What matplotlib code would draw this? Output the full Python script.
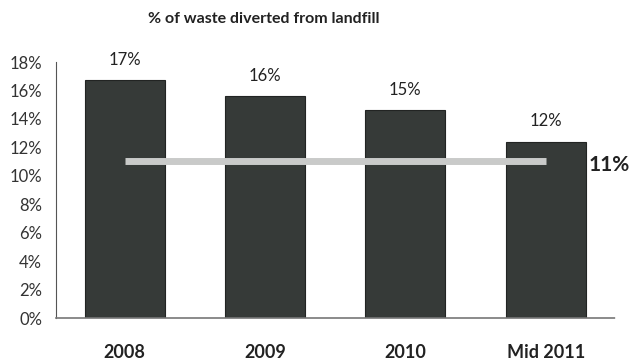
import matplotlib
matplotlib.use("Agg")
import matplotlib.pyplot as plt
from matplotlib.ticker import PercentFormatter

plt.rcParams['font.family'] = ['Lato', 'DejaVu Sans']

# waste diverted from landfill, percent
periods = ["2008", "2009", "2010", "Mid 2011"]
diverted = [16.7, 15.6, 14.6, 12.4]
target = 11.06
yticks = [0, 2, 4, 6, 8, 10, 12, 14, 16, 18]

fig = plt.figure(figsize=(6.31, 3.62), dpi=100)
ax = fig.add_axes([0.0887, 0.1215, 0.8873, 0.7072])

x = range(len(periods))
bars = ax.bar(x, diverted, width=0.57, color="#363a38", edgecolor="#222423", linewidth=0.8, zorder=2)

# value labels above each bar
for xi, v in zip(x, diverted):
    ax.annotate(f"{v:.0f}%", (xi, v), xytext=(0, 9), textcoords="offset points",
                ha="center", va="bottom", fontsize=12, color="#222222")

# target line across the bars
ax.plot([0, len(periods) - 1], [target, target], color="#c9cac9", lw=5,
        solid_capstyle="butt", zorder=3)
ax.annotate(f"{target:.0f}%", (len(periods) - 1, target), xytext=(31, -3),
            textcoords="offset points", ha="left", va="center",
            fontsize=15, fontweight="bold", color="#222222")

ax.set_xlim(-0.49, 3.5)
ax.set_ylim(0, 18)
ax.set_yticks(yticks)
ax.yaxis.set_major_formatter(PercentFormatter(decimals=0))
ax.set_xticks(list(x))
ax.set_xticklabels(periods, fontsize=13, fontweight="bold")
ax.tick_params(axis="x", length=0, pad=19, colors="#222222")
ax.tick_params(axis="y", length=0, pad=10, labelsize=12, colors="#333333")

for side in ["top", "right"]:
    ax.spines[side].set_visible(False)
ax.spines["left"].set_color("#555555")
ax.spines["left"].set_linewidth(0.8)
ax.spines["bottom"].set_color("#777777")
ax.spines["bottom"].set_linewidth(1.2)
ax.spines["bottom"].set_linestyle((0, (2, 1)))

fig.text(0.418, 0.948, "% of waste diverted from landfill", ha="center", va="center",
         fontsize=11.5, fontweight="bold", color="#222222")

fig.savefig("out.png", dpi=100)
